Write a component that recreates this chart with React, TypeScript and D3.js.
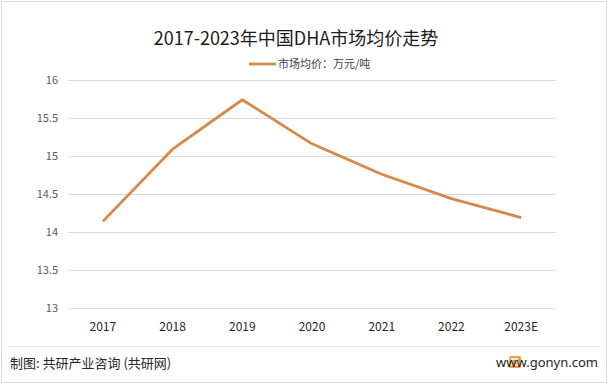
import { useEffect, useRef } from 'react'
import * as d3 from 'd3'

const years = ['2017', '2018', '2019', '2020', '2021', '2022', '2023E']
const prices = [14.14, 15.09, 15.74, 15.16, 14.76, 14.44, 14.19]
const yTicks = [13, 13.5, 14, 14.5, 15, 15.5, 16]

const title = '2017-2023年中国DHA市场均价走势'
const legendLabel = '市场均价：万元/吨'
const source = '制图: 共研产业咨询 (共研网)'
const site = 'www.gonyn.com'

const width = 612
const height = 386
const margin = { top: 80, right: 56, bottom: 78, left: 68 }
const font = '"Noto Sans CJK SC", "Noto Sans", sans-serif'
const lineColor = '#d58a4b'

export default function App() {
  const svgRef = useRef<SVGSVGElement>(null)

  useEffect(() => {
    if (!svgRef.current) return
    d3.select(svgRef.current).selectAll('*').remove()
    const svg = d3.select(svgRef.current)

    // background + border
    svg.append('rect').attr('width', width).attr('height', height).attr('fill', '#fff')
    svg
      .append('rect')
      .attr('x', 1.5)
      .attr('y', 1.5)
      .attr('width', width - 7)
      .attr('height', height - 5)
      .attr('fill', 'none')
      .attr('stroke', '#d9d9d9')

    const x = d3
      .scaleBand()
      .domain(years)
      .range([margin.left, width - margin.right])

    const y = d3
      .scaleLinear()
      .domain([13, 16])
      .range([height - margin.bottom, margin.top])

    // grid lines
    svg
      .append('g')
      .attr('transform', `translate(${margin.left},0)`)
      .call(
        d3
          .axisLeft(y)
          .tickValues(yTicks)
          .tickSize(-(width - margin.left - margin.right))
          .tickFormat(() => ''),
      )
      .call((g) => g.select('.domain').remove())
      .call((g) => g.selectAll('line').attr('stroke', '#d9d9d9'))

    // y labels
    svg
      .append('g')
      .attr('transform', `translate(${margin.left},0)`)
      .call(d3.axisLeft(y).tickValues(yTicks).tickSize(0).tickPadding(10).tickFormat((d) => String(d)))
      .call((g) => g.select('.domain').remove())
      .call((g) =>
        g.selectAll('text').attr('fill', '#595959').attr('font-size', 11).attr('font-family', font),
      )

    // x labels
    svg
      .append('g')
      .attr('transform', `translate(0,${height - margin.bottom})`)
      .call(d3.axisBottom(x).tickSize(0).tickPadding(14))
      .call((g) => g.select('.domain').remove())
      .call((g) =>
        g.selectAll('text').attr('fill', '#262626').attr('font-size', 12).attr('font-family', font),
      )

    // line
    const line = d3
      .line<number>()
      .x((_, i) => (x(years[i]) || 0) + x.bandwidth() / 2)
      .y((d) => y(d))

    svg
      .append('path')
      .datum(prices)
      .attr('fill', 'none')
      .attr('stroke', lineColor)
      .attr('stroke-width', 2.8)
      .attr('stroke-linejoin', 'round')
      .attr('d', line)

    // title
    svg
      .append('text')
      .attr('x', 296)
      .attr('y', 45)
      .attr('text-anchor', 'middle')
      .attr('font-family', font)
      .attr('font-size', 18)
      .attr('fill', '#1a1a1a')
      .text(title)

    // legend
    svg
      .append('line')
      .attr('x1', 249)
      .attr('x2', 276)
      .attr('y1', 64)
      .attr('y2', 64)
      .attr('stroke', lineColor)
      .attr('stroke-width', 2.8)
    svg
      .append('text')
      .attr('x', 278)
      .attr('y', 68)
      .attr('font-family', font)
      .attr('font-size', 11)
      .attr('fill', '#404040')
      .text(legendLabel)

    // footer
    svg
      .append('line')
      .attr('x1', 8)
      .attr('x2', 600)
      .attr('y1', 346.5)
      .attr('y2', 346.5)
      .attr('stroke', '#e3e3e3')
    svg
      .append('text')
      .attr('x', 10)
      .attr('y', 368)
      .attr('font-family', font)
      .attr('font-size', 13)
      .attr('fill', '#262626')
      .text(source)
    // small logo mark
    svg
      .append('rect')
      .attr('x', 509)
      .attr('y', 356)
      .attr('width', 12)
      .attr('height', 12)
      .attr('rx', 1.5)
      .attr('fill', '#f29b4b')
    svg
      .append('path')
      .attr('d', 'M518 359 H512 V365 H518 V362 H515.5')
      .attr('fill', 'none')
      .attr('stroke', '#fff')
      .attr('stroke-width', 1.6)
    svg
      .append('text')
      .attr('x', 598)
      .attr('y', 367)
      .attr('text-anchor', 'end')
      .attr('font-family', '"Noto Sans", sans-serif')
      .attr('font-size', 13)
      .attr('fill', '#262626')
      .text(site)
  }, [])

  return (
    <svg
      ref={svgRef}
      width={width}
      height={height}
      style={{ position: 'fixed', top: 0, left: 0, display: 'block' }}
    />
  )
}
